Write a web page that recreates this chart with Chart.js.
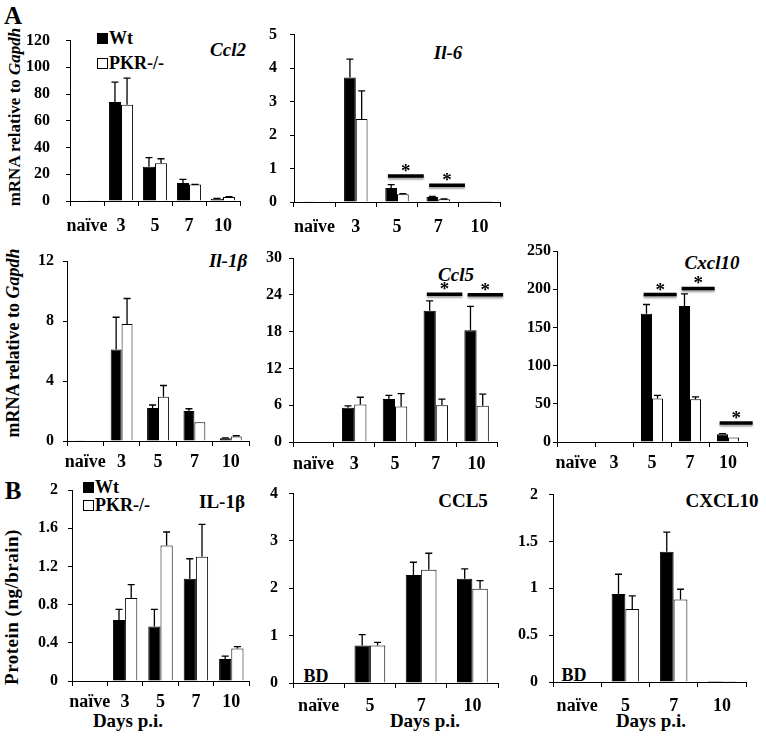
<!DOCTYPE html>
<html>
<head>
<meta charset="utf-8">
<script src="https://cdn.jsdelivr.net/npm/chart.js@4.4.1/dist/chart.umd.min.js"></script>
<style>
body { margin: 0; background: #fff; width: 766px; height: 739px; position: relative; overflow: hidden;
  font-family: "Liberation Serif", "Times New Roman", serif; font-weight: bold; color: #000; }
canvas { position: absolute; }
.t { position: absolute; white-space: nowrap; line-height: 1; transform: translate(-50%, -50%); }
.l { position: absolute; white-space: nowrap; line-height: 1; transform: translateY(-50%); font-size: 18px; }
.r { position: absolute; white-space: nowrap; line-height: 1; transform: translate(-50%, -50%) rotate(-90deg); font-size: 17px; }
.ttl { font-size: 19px; }
.sq { position: absolute; width: 9px; height: 9px; border: 1px solid #000; }
</style>
</head>
<body>

<div class="t" style="left:13px;top:15px;font-size:25px">A</div>
<div class="t" style="left:13px;top:490px;font-size:25px">B</div>

<div class="r" style="left:14px;top:117px">mRNA relative to <i>Gapdh</i></div>
<div class="r" style="left:13px;top:343px;font-size:18px">mRNA relative to <i>Gapdh</i></div>
<div class="r" style="left:11px;top:607px;font-size:19px;letter-spacing:0.5px">Protein (ng/brain)</div>

<div class="t ttl" style="left:228px;top:49px"><i>Ccl2</i></div>
<div class="t ttl" style="left:448px;top:52px"><i>Il-6</i></div>
<div class="t ttl" style="left:228px;top:260px"><i>Il-1β</i></div>
<div class="t ttl" style="left:456px;top:274px"><i>Ccl5</i></div>
<div class="t ttl" style="left:712px;top:262px"><i>Cxcl10</i></div>
<div class="t ttl" style="left:222px;top:501px">IL-1β</div>
<div class="t ttl" style="left:463px;top:500px">CCL5</div>
<div class="t ttl" style="left:722px;top:500px">CXCL10</div>

<div class="sq" style="left:97px;top:33px;background:#000"></div>
<div class="l" style="left:109px;top:38px">Wt</div>
<div class="sq" style="left:97px;top:58px;background:#fff"></div>
<div class="l" style="left:109px;top:63px">PKR-/-</div>
<div class="sq" style="left:83px;top:482px;background:#000"></div>
<div class="l" style="left:95px;top:487px">Wt</div>
<div class="sq" style="left:83px;top:500px;background:#fff"></div>
<div class="l" style="left:95px;top:505px">PKR-/-</div>

<div class="t" style="left:128px;top:720px;font-size:19px">Days p.i.</div>
<div class="t" style="left:425px;top:720px;font-size:19px">Days p.i.</div>
<div class="t" style="left:651px;top:720px;font-size:19px">Days p.i.</div>
<div class="t" style="left:316px;top:676px;font-size:18px">BD</div>
<div class="t" style="left:574px;top:675px;font-size:18px">BD</div>

<script>
// categories
const mrnaDays = ['naïve', '3', '5', '7', '10']
const proteinDays = ['naïve', '5', '7', '10']

// A: mRNA relative to Gapdh (mean, SEM)
const ccl2Wt = [0.4, 74, 25.6, 13.5, 1.7]
const ccl2WtErr = [0, 15, 6.8, 2.7, 0.3]
const ccl2Pkr = [0.2, 72, 28.3, 12.3, 2.9]
const ccl2PkrErr = [0, 20, 3.3, 0.2, 0.4]

const il6Wt = [0.02, 3.72, 0.42, 0.15, 0.02]
const il6WtErr = [0, 0.55, 0.1, 0.02, 0]
const il6Pkr = [0, 2.48, 0.23, 0.08, 0.03]
const il6PkrErr = [0, 0.84, 0.02, 0.01, 0]
const il6Sig = [[2, 0.78], [3, 0.5]]   // [category index, line level]

const il1bWt = [0.05, 6.1, 2.2, 2.0, 0.18]
const il1bWtErr = [0, 2.15, 0.2, 0.15, 0.03]
const il1bPkr = [0, 7.8, 2.95, 1.25, 0.3]
const il1bPkrErr = [0, 1.7, 0.75, 0, 0.05]

const ccl5Wt = [0.1, 5.6, 7.0, 21.4, 18.2]
const ccl5WtErr = [0, 0.3, 0.6, 1.6, 3.9]
const ccl5Pkr = [0, 6.1, 5.8, 6.0, 5.9]
const ccl5PkrErr = [0, 1.2, 2.1, 1.0, 1.9]
const ccl5Sig = [[3, 24.1], [4, 24]]

const cxcl10Wt = [0.8, 0.8, 168, 178, 10]
const cxcl10WtErr = [0, 0, 12, 16, 1]
const cxcl10Pkr = [0, 0.8, 57, 56, 6]
const cxcl10PkrErr = [0, 0, 4, 3, 0]
const cxcl10Sig = [[2, 193], [3, 201], [4, 25]]

// B: protein (ng/brain)
const pIl1bWt = [0, 0.64, 0.57, 1.07, 0.23]
const pIl1bWtErr = [0, 0.11, 0.18, 0.21, 0.03]
const pIl1bPkr = [0, 0.87, 1.42, 1.30, 0.34]
const pIl1bPkrErr = [0, 0.14, 0.14, 0.34, 0.02]

const pCcl5Wt = [0, 0.79, 2.28, 2.2]
const pCcl5WtErr = [0, 0.23, 0.27, 0.21]
const pCcl5Pkr = [0, 0.79, 2.39, 1.99]
const pCcl5PkrErr = [0, 0.07, 0.35, 0.17]

const pCxcl10Wt = [0, 0.94, 1.39, 0.012]
const pCxcl10WtErr = [0, 0.21, 0.21, 0]
const pCxcl10Pkr = [0, 0.78, 0.88, 0.012]
const pCxcl10PkrErr = [0, 0.14, 0.11, 0]

Chart.defaults.font.family = '"Liberation Serif", "Times New Roman", serif'
Chart.defaults.font.weight = 'bold'
Chart.defaults.color = '#000'

// error bars + significance lines
const errPlugin = {
  id: 'errbars',
  afterDatasetsDraw (chart, args, opts) {
    const ctx = chart.ctx
    const y = chart.scales.y
    const x = chart.scales.x
    ctx.save()
    ctx.strokeStyle = '#000'
    ctx.lineWidth = 1.3
    chart.data.datasets.forEach(function (ds, i) {
      chart.getDatasetMeta(i).data.forEach(function (bar, j) {
        const e = ds.err[j]
        if (!e) return
        const top = y.getPixelForValue(ds.data[j] + e)
        ctx.beginPath()
        ctx.moveTo(bar.x, bar.y)
        ctx.lineTo(bar.x, top)
        ctx.moveTo(bar.x - 3.5, top)
        ctx.lineTo(bar.x + 3.5, top)
        ctx.stroke()
      })
    })
    const w = x.getPixelForValue(1) - x.getPixelForValue(0)
    ;(opts.sig || []).forEach(function (s) {
      const cx = x.getPixelForValue(s[0])
      const ly = y.getPixelForValue(s[1])
      const x0 = cx - 0.22 * w
      const x1 = cx + 0.65 * w
      ctx.save()
      ctx.shadowColor = 'rgba(0,0,0,0.35)'
      ctx.shadowOffsetY = 2
      ctx.shadowBlur = 2
      ctx.lineWidth = 3.5
      ctx.beginPath()
      ctx.moveTo(x0, ly)
      ctx.lineTo(x1, ly)
      ctx.stroke()
      ctx.restore()
      ctx.fillStyle = '#000'
      ctx.font = 'bold 19px "Liberation Serif", serif'
      ctx.textAlign = 'center'
      ctx.textBaseline = 'alphabetic'
      ctx.fillText('*', (x0 + x1) / 2, ly + 1)
    })
    ctx.restore()
  }
}

const panels = [
  { labels: mrnaDays, wt: ccl2Wt, wtErr: ccl2WtErr, pkr: ccl2Pkr, pkrErr: ccl2PkrErr, max: 120, step: 20, sig: [],
    box: [70, 35, 240, 201], yPad: 16, xPad: 10, pct: 0.71 },
  { labels: mrnaDays, wt: il6Wt, wtErr: il6WtErr, pkr: il6Pkr, pkrErr: il6PkrErr, max: 5, step: 1, sig: il6Sig,
    box: [294, 32, 500, 202], yPad: 13, xPad: 10, pct: 0.57 },
  { labels: mrnaDays, wt: il1bWt, wtErr: il1bWtErr, pkr: il1bPkr, pkrErr: il1bPkrErr, max: 12, step: 4, sig: [],
    box: [67, 261, 249, 441], yPad: 9, xPad: 6, pct: 0.6 },
  { labels: mrnaDays, wt: ccl5Wt, wtErr: ccl5WtErr, pkr: ccl5Pkr, pkrErr: ccl5PkrErr, max: 30, step: 6, sig: ccl5Sig,
    box: [293, 258, 497, 442], yPad: 7, xPad: 7, pct: 0.6 },
  { labels: mrnaDays, wt: cxcl10Wt, wtErr: cxcl10WtErr, pkr: cxcl10Pkr, pkrErr: cxcl10PkrErr, max: 250, step: 50, sig: cxcl10Sig,
    box: [557, 251, 747, 442], yPad: 2, xPad: 6, pct: 0.58 },
  { labels: mrnaDays, wt: pIl1bWt, wtErr: pIl1bWtErr, pkr: pIl1bPkr, pkrErr: pIl1bPkrErr, max: 2, step: 0.4, sig: [],
    box: [72, 490, 249, 681], yPad: 10, xPad: 6, pct: 0.69 },
  { labels: proteinDays, wt: pCcl5Wt, wtErr: pCcl5WtErr, pkr: pCcl5Pkr, pkrErr: pCcl5PkrErr, max: 4, step: 1, sig: [],
    box: [293, 493, 498, 683], yPad: 11, xPad: 8, pct: 0.6 },
  { labels: proteinDays, wt: pCxcl10Wt, wtErr: pCxcl10WtErr, pkr: pCxcl10Pkr, pkrErr: pCxcl10PkrErr, max: 2, step: 0.5, sig: [],
    box: [553, 494, 746, 682], yPad: 11, xPad: 9, pct: 0.57 }
]

const YW = 60, PT = 20, PR = 22, XH = 45

function drawPanel (p) {
  const l = p.box[0], t = p.box[1], r = p.box[2], b = p.box[3]
  const cv = document.createElement('canvas')
  cv.width = r - l + YW + PR
  cv.height = b - t + PT + XH
  cv.style.left = (l - YW) + 'px'
  cv.style.top = (t - PT) + 'px'
  document.body.appendChild(cv)
  new Chart(cv, {
    type: 'bar',
    data: {
      labels: p.labels,
      datasets: [
        { label: 'Wt', data: p.wt, err: p.wtErr, backgroundColor: '#000', borderColor: '#000', borderWidth: 1 },
        { label: 'PKR-/-', data: p.pkr, err: p.pkrErr, backgroundColor: '#fff', borderColor: '#000', borderWidth: 1 }
      ]
    },
    options: {
      responsive: false,
      animation: false,
      devicePixelRatio: 1,
      layout: { padding: { top: PT, right: PR, left: 0, bottom: 0 } },
      datasets: { bar: { categoryPercentage: p.pct, barPercentage: 1 } },
      plugins: { legend: { display: false }, tooltip: { enabled: false }, errbars: { sig: p.sig } },
      scales: {
        x: {
          grid: { drawOnChartArea: false, color: '#000', tickLength: 5, offset: true },
          border: { color: '#000', width: 1 },
          ticks: { font: { size: 18, weight: 'bold' }, padding: p.xPad, maxRotation: 0, autoSkip: false },
          afterFit: function (s) { s.height = XH }
        },
        y: {
          min: 0,
          max: p.max,
          grid: { drawOnChartArea: false, color: '#000', tickLength: 4 },
          border: { color: '#000', width: 1 },
          ticks: {
            stepSize: p.step,
            font: { size: 16, weight: 'bold' },
            padding: p.yPad,
            callback: function (v) { return String(+v.toFixed(2)) }
          },
          afterFit: function (s) { s.width = YW }
        }
      }
    },
    plugins: [errPlugin]
  })
}

panels.forEach(drawPanel)
</script>
</body>
</html>
